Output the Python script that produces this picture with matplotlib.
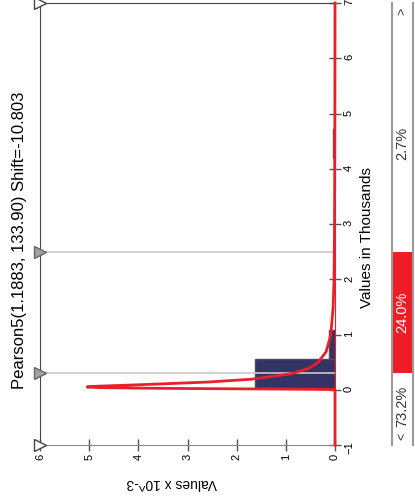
import matplotlib
matplotlib.use("Agg")
import matplotlib.pyplot as plt

plt.rcParams['font.family'] = ['Liberation Sans', 'DejaVu Sans']

# Pearson5 fit curve, values in thousands vs density (x 10^-3)
curve_val = [-1.0, -0.0108, -0.0008, 0.0042, 0.0092, 0.0142, 0.0192, 0.0242, 0.0292,
             0.0392, 0.0504, 0.0642, 0.0892, 0.1392, 0.1892, 0.2892, 0.3892, 0.4892,
             0.6892, 0.9892, 1.4892, 1.9892, 2.9892, 4.9892, 7.0]
curve_den = [0.0, 0.0, 0.004, 0.13, 0.64, 1.51, 2.47, 3.33, 4.01,
             4.81, 5.04, 4.83, 4.02, 2.59, 1.72, 0.89, 0.53, 0.35,
             0.18, 0.087, 0.038, 0.02, 0.009, 0.003, 0.0]

# histogram bins (thousands) and densities (x 10^-3)
bin_lo = [0.036, 0.556, 4.196]
bin_w = 0.52
bin_den = [1.63, 0.12, 0.04]

# delimiters and percentages
delims = [0.3, 2.5]
pcts = ["73.2%", "24.0%", "2.7%"]

title = "Pearson5(1.1883, 133.90) Shift=-10.803"

W, H = 415, 503
def box(x0, y0, x1, y1):
    return [x0 / W, 1 - y1 / H, (x1 - x0) / W, (y1 - y0) / H]

fig = plt.figure(figsize=(W / 100, H / 100), dpi=100)
ax = fig.add_axes(box(40, 3, 335, 445))

ax.barh(bin_lo, bin_den, height=bin_w, align='edge', color='#333366',
        edgecolor='#4a4a5e', linewidth=1, zorder=2)
for d in delims:
    ax.axhline(d, color='#cdc6c6', lw=1.2, zorder=3)
ax.plot(curve_den, curve_val, color='#e8202a', lw=2, zorder=4, clip_on=False)

ax.set_xlim(6, 0)
ax.set_ylim(-1, 7)
ax.set_xticks(range(0, 7))
ax.set_yticks(range(-1, 8))
ax.yaxis.tick_right()
ax.tick_params(axis='both', direction='inout', length=9, width=1, color='#555555',
               labelsize=8, labelrotation=90, pad=2)

for s in ['left', 'top']:
    ax.spines[s].set_color('#444444')
ax.spines['bottom'].set_color('#888888')
ax.spines['right'].set_color('#e8202a')

# delimiter markers on the left edge
ax.plot([6, 6], [-1, 7], ls='none', marker='>', ms=9, mfc='white', mec='#444444',
        clip_on=False, zorder=5)
ax.plot([6] * len(delims), delims, ls='none', marker='>', ms=9, mfc='#a8a0a0',
        mec='#666666', clip_on=False, zorder=5)

fig.text(20 / W, 1 - 240 / H, title, rotation=90, ha='center', va='center', fontsize=12)
fig.text(367 / W, 1 - 238 / H, "Values in Thousands", rotation=90, ha='center',
         va='center', fontsize=11)
fig.text(172 / W, 1 - 483 / H, "Values x 10^-3", rotation=180, ha='center',
         va='center', fontsize=10)

# delimiter bar on the right
bx = fig.add_axes(box(392, 3, 413, 445))
bx.set_xlim(0, 1)
bx.set_ylim(-1, 7)
bx.axhspan(delims[0], delims[1], color='#ee1c25', lw=0)
for s in ['top', 'bottom']:
    bx.spines[s].set_visible(False)
for s in ['left', 'right']:
    bx.spines[s].set_color('#9a9a9a')
    bx.spines[s].set_linewidth(1.5)
bx.set_xticks([])
bx.set_yticks([])
mids = [(-1 + delims[0]) / 2 + 0.05, (delims[0] + delims[1]) / 2, (delims[1] + 7) / 2 - 0.3]
cols = ['#333333', 'white', '#333333']
for m, p, c in zip(mids, pcts, cols):
    bx.text(0.5, m, p, rotation=90, ha='center', va='center', color=c, fontsize=10.5)
bx.text(0.5, -0.85, "<", rotation=90, ha='center', va='center', fontsize=9, color='#333333')
bx.text(0.5, 6.85, ">", rotation=90, ha='center', va='center', fontsize=9, color='#333333')

fig.savefig("out.png", dpi=100)
